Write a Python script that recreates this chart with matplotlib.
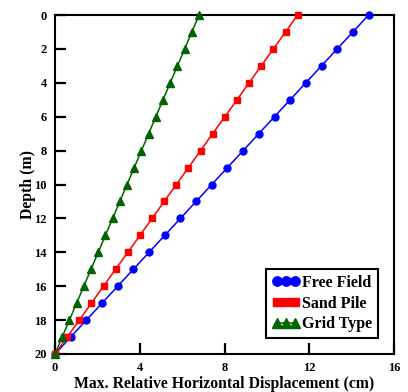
import matplotlib
matplotlib.use("Agg")
import matplotlib.pyplot as plt

plt.rcParams["font.family"] = ["Liberation Serif", "DejaVu Serif"]
plt.rcParams["font.weight"] = "bold"

# depth (m)
depth = list(range(0, 21))

# max relative horizontal displacement (cm)
free_field = [14.8, 14.06, 13.32, 12.58, 11.84, 11.1, 10.36, 9.62, 8.88, 8.14, 7.4,
              6.66, 5.92, 5.18, 4.44, 3.7, 2.96, 2.22, 1.48, 0.74, 0.0]
sand_pile = [11.45, 10.88, 10.31, 9.73, 9.16, 8.59, 8.02, 7.44, 6.87, 6.30, 5.73,
             5.15, 4.58, 4.01, 3.44, 2.86, 2.29, 1.72, 1.15, 0.57, 0.0]
grid_type = [6.8, 6.46, 6.12, 5.78, 5.44, 5.1, 4.76, 4.42, 4.08, 3.74, 3.4,
             3.06, 2.72, 2.38, 2.04, 1.7, 1.36, 1.02, 0.68, 0.34, 0.0]

x_ticks = [0, 4, 8, 12, 16]
y_ticks = [0, 2, 4, 6, 8, 10, 12, 14, 16, 18, 20]

fig = plt.figure(figsize=(4.08, 3.92), dpi=100)
ax = fig.add_axes([55 / 408, 38 / 392, 339 / 408, 339 / 392])

ax.plot(free_field, depth, color="#0000ff", marker="o", ms=5, lw=1.1, label="Free Field", clip_on=False, zorder=3)
ax.plot(sand_pile, depth, color="#ff0000", marker="s", ms=4, lw=1.1, label="Sand Pile", clip_on=False, zorder=3)
ax.plot(grid_type, depth, color="#006400", marker="^", ms=5.5, lw=1.1, label="Grid Type", clip_on=False, zorder=3)

ax.set_xlim(0, 16)
ax.set_ylim(20, 0)
ax.set_xticks(x_ticks)
ax.set_yticks(y_ticks)
ax.tick_params(direction="in", length=8, width=1.6, labelsize=9)
ax.tick_params(axis="x", pad=6)
ax.tick_params(axis="y", pad=6)
for s in ax.spines.values():
    s.set_linewidth(1.5)

ax.set_xlabel("Max. Relative Horizontal Displacement (cm)", fontsize=11.3, fontweight="bold", labelpad=1)
ax.set_ylabel("Depth (m)", fontsize=11.3, fontweight="bold", labelpad=-1)

leg = ax.legend(loc="lower right", numpoints=3, markerscale=1.35, fontsize=11.5,
                fancybox=False, edgecolor="black", framealpha=1,
                bbox_to_anchor=(0.953, 0.047), borderaxespad=0, handlelength=1.75,
                handletextpad=0.15, labelspacing=0.3, borderpad=0.35)
leg.get_frame().set_linewidth(1.5)

fig.savefig("out.png", dpi=100)
